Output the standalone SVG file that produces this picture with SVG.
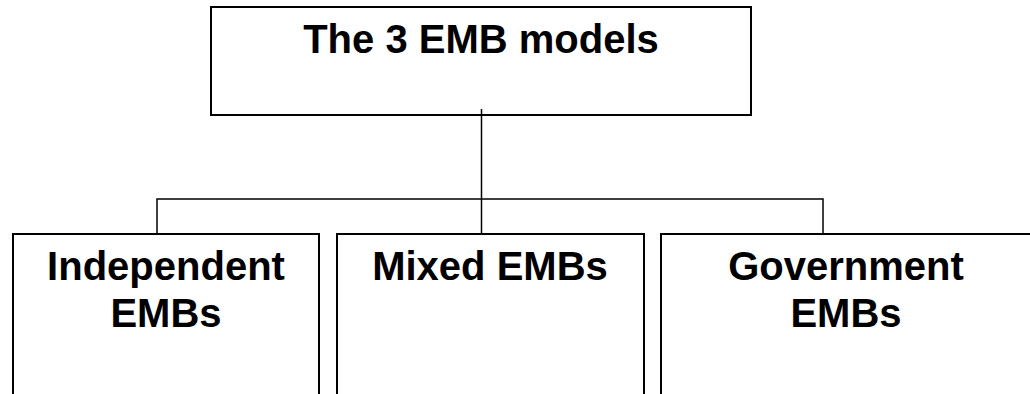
<svg xmlns="http://www.w3.org/2000/svg" width="1030" height="394" viewBox="0 0 1030 394">
<style>
.box{fill:#fff;stroke:#000;stroke-width:2}
.conn{fill:none;stroke:#000;stroke-width:1.5}
.lbl{font-family:"Liberation Sans",Arial,Helvetica,sans-serif;font-weight:bold;font-size:40px;fill:#000;text-anchor:middle}
</style>
<rect width="1030" height="394" fill="#fff"/>
<g id="root">
<rect class="box" x="211" y="7" width="540" height="108"/>
<text class="lbl" x="481" y="53">The 3 EMB models</text>
</g>
<g id="independent">
<rect class="box" x="13" y="234" width="306" height="180"/>
<text class="lbl" x="166" y="280">Independent</text>
<text class="lbl" x="166" y="327">EMBs</text>
</g>
<g id="mixed">
<rect class="box" x="337" y="234" width="307" height="180"/>
<text class="lbl" x="490" y="280">Mixed EMBs</text>
</g>
<g id="government">
<rect class="box" x="661" y="234" width="380" height="180"/>
<text class="lbl" x="846" y="280">Government</text>
<text class="lbl" x="846" y="327">EMBs</text>
</g>
<g id="connectors">
<line class="conn" x1="481.5" y1="109" x2="481.5" y2="234"/>
<polyline class="conn" points="157,234 157,199 823,199 823,234"/>
</g>
</svg>
